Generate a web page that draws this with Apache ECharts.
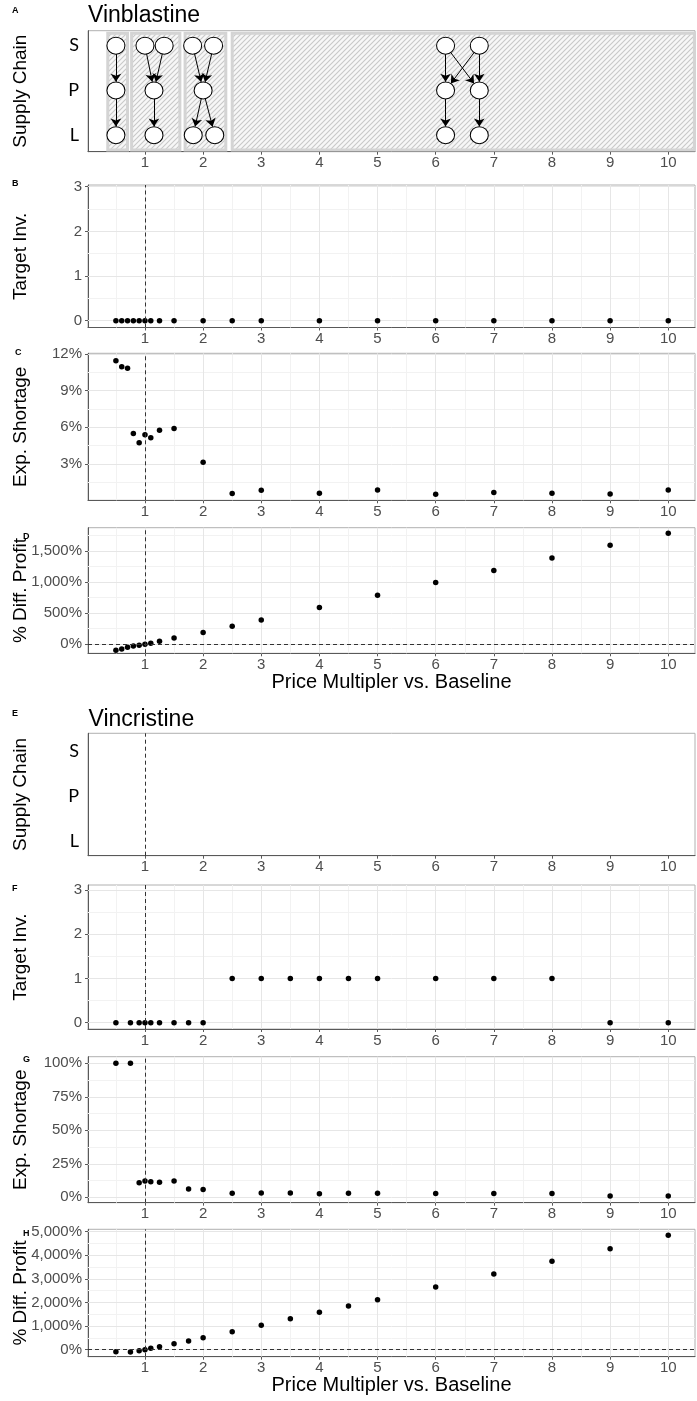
<!DOCTYPE html>
<html>
<head>
<meta charset="utf-8">
<script src="https://cdn.jsdelivr.net/npm/echarts@6/dist/echarts.min.js"></script>
<style>
  html, body { margin: 0; padding: 0; background: #ffffff; }
  #chart { width: 697px; height: 1401px; }
</style>
</head>
<body>
<div id="chart"></div>
<script>
// ---- Price multipliers vs. baseline ----
const vinblastineMultipliers = [0.5, 0.6, 0.7, 0.8, 0.9, 1, 1.1, 1.25, 1.5, 2, 2.5, 3, 4, 5, 6, 7, 8, 9, 10];
const vincristineMultipliers = [0.5, 0.75, 0.9, 1, 1.1, 1.25, 1.5, 1.75, 2, 2.5, 3, 3.5, 4, 4.5, 5, 6, 7, 8, 9, 10];

// ---- Vinblastine results ----
const vinblastineTargetInv = [0, 0, 0, 0, 0, 0, 0, 0, 0, 0, 0, 0, 0, 0, 0, 0, 0, 0, 0];
const vinblastineShortagePct = [11.44, 10.95, 10.82, 5.49, 4.72, 5.38, 5.13, 5.76, 5.90, 3.14, 0.57, 0.84, 0.60, 0.87, 0.52, 0.66, 0.60, 0.54, 0.87];
const vinblastineProfitPct = [-96, -75, -48, -27, -16, 0, 16, 48, 101, 188, 289, 391, 590, 788, 992, 1185, 1383, 1587, 1780];

// ---- Vincristine results ----
const vincristineTargetInv = [0, 0, 0, 0, 0, 0, 0, 0, 0, 1, 1, 1, 1, 1, 1, 1, 1, 1, 0, 0];
const vincristineShortagePct = [100, 100, 10.9, 12.2, 11.7, 11.2, 12.2, 6.2, 5.9, 3.0, 3.2, 3.2, 2.7, 3.0, 3.0, 2.8, 2.8, 2.8, 1.0, 1.0];
const vincristineProfitPct = [-85, -97, -42, 0, 56, 127, 254, 367, 508, 763, 1034, 1314, 1585, 1852, 2119, 2657, 3208, 3746, 4280, 4847];

// ---- Vinblastine supply-chain structures (S = supplier, P = producer, L = labeler) ----
// multiplier ranges sharing one network structure
const vinblastineChainRanges = [[0.36, 0.70], [0.77, 1.60], [1.69, 2.39], [2.50, 10.45]];
// nodes: [position on multiplier axis, tier]  tier 3 = S, 2 = P, 1 = L
const vinblastineChainNodes = [
  [0.5, 3], [0.5, 2], [0.5, 1],
  [1.0, 3], [1.33, 3], [1.155, 2], [1.155, 1],
  [1.82, 3], [2.18, 3], [2.0, 2], [1.83, 1], [2.2, 1],
  [6.17, 3], [6.75, 3], [6.17, 2], [6.75, 2], [6.17, 1], [6.75, 1]
];
// flows between nodes: [from, to]
const vinblastineChainLinks = [
  [0, 1], [1, 2],
  [3, 5], [4, 5], [5, 6],
  [7, 9], [8, 9], [9, 10], [9, 11],
  [12, 14], [12, 15], [13, 14], [13, 15], [14, 16], [15, 17]
];

// ---- Axis breaks ----
const xTicks = [1, 2, 3, 4, 5, 6, 7, 8, 9, 10];
const xMinorTicks = [0.5, 1.5, 2.5, 3.5, 4.5, 5.5, 6.5, 7.5, 8.5, 9.5];
const tierTicks = [1, 2, 3];
const tierNames = { 1: 'L', 2: 'P', 3: 'S' };
const invTicks = [0, 1, 2, 3];
const invMinorTicks = [0.5, 1.5, 2.5];
const vinblastineShortageTicks = [3, 6, 9, 12];
const vinblastineShortageMinor = [1.5, 4.5, 7.5, 10.5];
const vinblastineProfitTicks = [0, 500, 1000, 1500];
const vinblastineProfitMinor = [250, 750, 1250, 1750];
const vincristineShortageTicks = [0, 25, 50, 75, 100];
const vincristineShortageMinor = [12.5, 37.5, 62.5, 87.5];
const vincristineProfitTicks = [0, 1000, 2000, 3000, 4000, 5000];
const vincristineProfitMinor = [500, 1500, 2500, 3500, 4500];

// ---- Styling ----
const FONT = '"Liberation Sans", Arial, sans-serif';
const TIER_FONT = 'Lato, "Open Sans", sans-serif';
const X_MIN = 0.02, X_MAX = 10.46;
const TIER_BAND = [0.67, 3.28];
const axisGrey = '#595959';
const labelGrey = '#4d4d4d';
const majorGrid = { color: '#e6e6e6', width: 1, type: 'solid' };
const minorGrid = { color: '#f2f2f2', width: 1, type: 'solid' };
const refLine = { color: '#333333', width: 1, type: [4, 3] };

const pctFmt = v => v.toLocaleString('en-US') + '%';

// Panel layout (pixel boxes) and y scales
const panels = [
  { top: 30.7,   height: 121,   min: 0.63,   max: 3.335, name: 'Supply Chain',   tier: true },
  { top: 185,    height: 142.5, min: -0.152, max: 3.038, name: 'Target Inv.',    ticks: invTicks, minor: invMinorTicks },
  { top: 353.3,  height: 147,   min: 0.02,   max: 12.05, name: 'Exp. Shortage',  ticks: vinblastineShortageTicks, minor: vinblastineShortageMinor, fmt: pctFmt },
  { top: 527.7,  height: 125.6, min: -145,   max: 1870,  name: '% Diff. Profit', ticks: vinblastineProfitTicks, minor: vinblastineProfitMinor, fmt: pctFmt, xName: true, zeroLine: true },
  { top: 733.3,  height: 122.4, min: 0.673,  max: 3.393, name: 'Supply Chain',   tier: true, vline: true },
  { top: 885,    height: 144,   min: -0.142, max: 3.113, name: 'Target Inv.',    ticks: invTicks, minor: invMinorTicks },
  { top: 1056.7, height: 146,   min: -4,     max: 104.9, name: 'Exp. Shortage',  ticks: vincristineShortageTicks, minor: vincristineShortageMinor, fmt: pctFmt },
  { top: 1229.3, height: 127.4, min: -297,   max: 5102,  name: '% Diff. Profit', ticks: vincristineProfitTicks, minor: vincristineProfitMinor, fmt: pctFmt, xName: true, zeroLine: true }
];

// diagonal hatch used behind the supply-chain networks
function makeHatch() {
  const s = 5;
  const c = document.createElement('canvas');
  c.width = s; c.height = s;
  const g = c.getContext('2d');
  g.fillStyle = '#f7f7f7';
  g.fillRect(0, 0, s, s);
  g.strokeStyle = '#c8c8c8';
  g.lineWidth = 1.1;
  g.beginPath();
  g.moveTo(0, s); g.lineTo(s, 0);
  g.moveTo(-1, 1); g.lineTo(1, -1);
  g.moveTo(s - 1, s + 1); g.lineTo(s + 1, s - 1);
  g.stroke();
  return c;
}
const hatch = makeHatch();

const grid = [], xAxis = [], yAxis = [], series = [];

panels.forEach((p, i) => {
  grid.push({
    left: 88, right: 2, top: p.top, height: p.height,
    show: true, borderColor: '#b0b0b0', borderWidth: 1,
    containLabel: false, outerBoundsMode: 'none'
  });

  xAxis.push({
    type: 'value', gridIndex: i, min: X_MIN, max: X_MAX,
    splitLine: { show: false },
    axisLine: { show: true, onZero: false, lineStyle: { color: axisGrey, width: 1 } },
    axisTick: { show: true, customValues: xTicks, length: 3, lineStyle: { color: axisGrey } },
    axisLabel: { customValues: xTicks, color: labelGrey, fontSize: 15, fontFamily: FONT, margin: 4 },
    name: p.xName ? 'Price Multipler vs. Baseline' : '',
    nameLocation: 'middle', nameGap: 19, nameMoveOverlap: false,
    nameTextStyle: { color: '#000', fontSize: 20, fontFamily: FONT }
  });

  const yTicks = p.tier ? tierTicks : p.ticks;
  yAxis.push({
    type: 'value', gridIndex: i, min: p.min, max: p.max,
    name: p.name, nameLocation: 'middle', nameRotate: 90, nameGap: 58, nameMoveOverlap: false,
    nameTextStyle: { color: '#000', fontSize: 19, fontFamily: FONT },
    splitLine: { show: false },
    axisLine: { show: true, onZero: false, lineStyle: { color: axisGrey, width: 1 } },
    axisTick: { show: !p.tier, customValues: yTicks, length: 3, lineStyle: { color: axisGrey } },
    axisLabel: p.tier
      ? { customValues: yTicks, formatter: v => tierNames[v], color: '#000', fontSize: 18, fontFamily: TIER_FONT, margin: 9 }
      : { customValues: yTicks, formatter: p.fmt || (v => String(v)), color: labelGrey, fontSize: 15, fontFamily: FONT, margin: 6 }
  });

  // background grid lines
  if (!p.tier) {
    const lines = []
      .concat(xMinorTicks.map(v => ({ xAxis: v, lineStyle: minorGrid })))
      .concat(p.minor.map(v => ({ yAxis: v, lineStyle: minorGrid })))
      .concat(xTicks.map(v => ({ xAxis: v, lineStyle: majorGrid })))
      .concat(p.ticks.map(v => ({ yAxis: v, lineStyle: majorGrid })));
    series.push({
      type: 'scatter', xAxisIndex: i, yAxisIndex: i, data: [], silent: true, z: 1,
      markLine: { silent: true, symbol: ['none', 'none'], animation: false, label: { show: false }, z: 1, data: lines }
    });
  }

  // baseline reference lines (multiplier = 1, profit difference = 0)
  if (!p.tier || p.vline) {
    const ref = [{ xAxis: 1 }];
    if (p.zeroLine) ref.push({ yAxis: 0 });
    series.push({
      type: 'scatter', xAxisIndex: i, yAxisIndex: i, data: [], silent: true, z: 4,
      markLine: { silent: true, symbol: ['none', 'none'], animation: false, label: { show: false }, z: 4, lineStyle: refLine, data: ref }
    });
  }
});

// point series
const pointSets = [
  [1, vinblastineMultipliers, vinblastineTargetInv],
  [2, vinblastineMultipliers, vinblastineShortagePct],
  [3, vinblastineMultipliers, vinblastineProfitPct],
  [5, vincristineMultipliers, vincristineTargetInv],
  [6, vincristineMultipliers, vincristineShortagePct],
  [7, vincristineMultipliers, vincristineProfitPct]
];
pointSets.forEach(([i, xs, ys]) => {
  series.push({
    type: 'scatter', xAxisIndex: i, yAxisIndex: i, z: 3,
    symbol: 'circle', symbolSize: 5.5,
    itemStyle: { color: '#000000', opacity: 1 },
    data: xs.map((x, k) => [x, ys[k]])
  });
});

// hatched bands of the vinblastine supply-chain structures
series.push({
  type: 'custom', xAxisIndex: 0, yAxisIndex: 0, z: 1, silent: true,
  data: vinblastineChainRanges.map(r => [r[0], r[1]]),
  encode: { x: [0, 1] },
  renderItem: (params, api) => {
    const a = api.coord([api.value(0), TIER_BAND[1]]);
    const b = api.coord([api.value(1), TIER_BAND[0]]);
    return {
      type: 'rect',
      shape: { x: a[0], y: a[1], width: b[0] - a[0], height: b[1] - a[1] },
      style: { fill: { image: hatch, repeat: 'repeat' }, stroke: '#d4d4d4', lineWidth: 3 }
    };
  }
});

// supply-chain network nodes and flows
series.push({
  type: 'graph', coordinateSystem: 'cartesian2d', xAxisIndex: 0, yAxisIndex: 0, z: 3,
  silent: true,
  symbol: 'circle', symbolSize: [18, 17],
  itemStyle: { color: '#ffffff', borderColor: '#000000', borderWidth: 1, opacity: 1 },
  label: { show: false },
  edgeSymbol: ['none', 'arrow'], edgeSymbolSize: [0, 8],
  lineStyle: { color: '#000000', width: 1, opacity: 1, curveness: 0 },
  data: vinblastineChainNodes.map((n, k) => ({ name: 'n' + k, value: [n[0], n[1]] })),
  links: vinblastineChainLinks.map(l => ({ source: l[0], target: l[1] }))
});

const txt = (text, x, y, font) => ({
  type: 'text', x, y, silent: true,
  style: { text, font, fill: '#000', align: 'left', verticalAlign: 'middle' }
});
const letterFont = 'bold 9px ' + FONT;
const graphic = [
  txt('Vinblastine', 88, 15.7, '23px ' + FONT),
  txt('Vincristine', 88.5, 720, '23px ' + FONT),
  txt('A', 12, 11, letterFont),
  txt('B', 12, 184, letterFont),
  txt('C', 15, 353, letterFont),
  txt('D', 23, 537, letterFont),
  txt('E', 12, 714, letterFont),
  txt('F', 12, 889, letterFont),
  txt('G', 23, 1060, letterFont),
  txt('H', 23, 1234, letterFont)
];

const chart = echarts.init(document.getElementById('chart'), null, { renderer: 'canvas' });
chart.setOption({
  animation: false,
  backgroundColor: '#ffffff',
  grid, xAxis, yAxis, series, graphic
});
</script>
</body>
</html>
